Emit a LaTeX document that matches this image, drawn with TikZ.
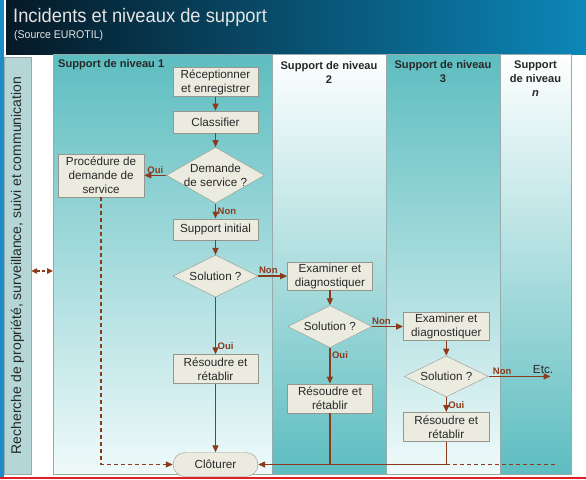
\documentclass[tikz,border=0pt]{standalone}
\usepackage{fontspec}
\setmainfont{Liberation Sans}
\newfontfamily\titlefont[FakeStretch=0.94]{Liberation Sans}
\usepackage{xcolor}
\usepackage{tikz}
\usetikzlibrary{shapes.geometric}
\usetikzlibrary{arrows.meta}
\usetikzlibrary{positioning}
\definecolor{boxfill}{RGB}{236,235,224}
\definecolor{boxline}{RGB}{150,150,140}
\definecolor{textgray}{RGB}{40,40,40}
\definecolor{flowbrown}{RGB}{140,58,28}
\definecolor{laneteal}{RGB}{93,189,192}
\definecolor{lanepale}{RGB}{240,250,250}
\definecolor{laneline}{RGB}{150,172,172}
\definecolor{sidefill}{RGB}{180,214,214}
\definecolor{sideblue}{RGB}{30,140,200}
\definecolor{hdleft}{RGB}{5,25,38}
\definecolor{hdmid}{RGB}{8,55,76}
\definecolor{hdright}{RGB}{12,135,185}
\definecolor{titlegray}{RGB}{228,228,228}
\definecolor{redline}{RGB}{225,30,35}

\begin{document}
\begin{tikzpicture} [x=1pt, y=-1pt,
                txt/.style = {font=\fontsize{11.7}{14}\selectfont, text=textgray, align=center},
                box/.style = {txt, draw=boxline, fill=boxfill, minimum width=85pt, minimum height=29pt, inner sep=1pt},
                decision/.style = {diamond, draw=boxline, fill=boxfill, inner sep=0pt},
                lane/.style = {draw=laneline, line width=.6pt},
                lanehead/.style = {font=\fontsize{11.1}{14}\selectfont\bfseries, text=textgray, align=center, inner sep=0pt},
                tip/.style = {Stealth[inset=0pt,length=7pt,width=6pt]},
                flow/.style = {draw=flowbrown, line width=1.3pt, -{Stealth[inset=0pt,length=7pt,width=6pt]}},
                link/.style = {draw=flowbrown, line width=1.3pt},
                lbl/.style = {font=\fontsize{9.5}{11}\selectfont\bfseries, text=flowbrown, inner sep=1.5pt}
            ]
            \useasboundingbox (0,0) rectangle (586,479);
            \fill[white] (0,0) rectangle (586,479);
            \fill[sideblue] (0,0) rectangle (4,479);
            \shade[left color=hdleft, middle color=hdmid, right color=hdright] (6,0) rectangle (586,54);
            \node (title) at (13,23) [anchor=base west, inner sep=0pt, text=titlegray, font=\titlefont\fontsize{19.5}{21}\selectfont] {Incidents et niveaux de support};
            \node (source) at (14,38) [anchor=base west, inner sep=0pt, text=titlegray, font=\titlefont\fontsize{11.2}{13}\selectfont] {(Source EUROTIL)};
            \shade[lane, top color=laneteal, bottom color=lanepale] (53,54) rectangle (272,474);
            \shade[lane, top color=white, bottom color=laneteal] (272,54) rectangle (386,474);
            \shade[lane, top color=laneteal, bottom color=lanepale] (386,54) rectangle (500,474);
            \shade[lane, top color=white, bottom color=laneteal] (500,54) rectangle (571,474);
            \node (head1) at (58,65) [lanehead, anchor=west] {Support de niveau 1};
            \node (head2) at (329,72) [lanehead] {Support de niveau\\2};
            \node (head3) at (443,72) [lanehead] {Support de niveau\\3};
            \node (headn) at (535.5,79) [lanehead] {Support\\de niveau\\\textit{n}};
            \node (watch) at (17.5,265.5) [draw=laneline, fill=sidefill, rotate=90, minimum width=417pt, minimum height=27pt, inner sep=0pt, text=textgray, font=\fontsize{14}{16}\selectfont] {Recherche de propriété, surveillance, suivi et communication};
            \coordinate (l1w) at (53,271);
            \draw [link, {Stealth[inset=0pt,length=6pt,width=5.5pt]}-{Stealth[inset=0pt,length=6pt,width=5.5pt]}, dash pattern=on 3pt off 2pt] (watch.south |- l1w) -- (l1w);
            \node (rec) at (215.5,82) [box] {Réceptionner\\et enregistrer};
            \node[box, minimum height=22pt, below=14pt of rec] (cls) {Classifier};
            \node[decision, minimum width=98pt, minimum height=56pt, below=14pt of cls, label={[txt]center:Demande\\de service ?}] (dem) {};
            \node[box, minimum width=86pt, minimum height=43pt, left=22pt of dem] (proc) {Procédure de\\demande de\\service};
            \node[box, minimum height=21pt, below=15pt of dem] (sup) {Support initial};
            \node[decision, minimum width=85pt, minimum height=42pt, below=15pt of sup, label={[txt]center:Solution ?}] (sol1) {};
            \node[box, below=57pt of sol1] (res1) {Résoudre et\\rétablir};
            \node (clo) at (215.5,464.5) [box, minimum height=24pt, rounded corners=12pt] {Clôturer};
            \node[box, minimum height=28pt, right=29pt of sol1] (exa2) {Examiner et\\diagnostiquer};
            \node[decision, minimum width=84pt, minimum height=42pt, below=15pt of exa2, label={[txt]center:Solution ?}] (sol2) {};
            \node[box, below=36pt of sol2] (res2) {Résoudre et\\rétablir};
            \node[box, minimum width=86pt, minimum height=28pt, right=31pt of sol2] (exa3) {Examiner et\\diagnostiquer};
            \node[decision, minimum width=84pt, minimum height=41pt, below=15pt of exa3, label={[txt]center:Solution ?}] (sol3) {};
            \node[box, minimum width=86pt, below=15pt of sol3] (res3) {Résoudre et\\rétablir};
            \coordinate[right=62pt of sol3.east] (etc);
            \coordinate (j2) at (res2 |- clo);
            \coordinate (j3) at (res3 |- clo);
            \coordinate[right=112pt of j3] (endn);
            \draw [flow] (rec) -- (cls);
            \draw [flow] (cls) -- (dem);
            \draw [flow] (dem) -- node[lbl, above] {Oui} (proc);
            \draw [flow] (dem) -- node[lbl, right] {Non} (sup);
            \draw [flow] (sup) -- (sol1);
            \draw [flow] (sol1) -- node[lbl, above, pos=.35] {Non} (exa2);
            \draw [flow] (sol1) -- node[lbl, right, pos=.86] {Oui} (res1);
            \draw [flow] (res1) -- (clo);
            \draw [flow, dash pattern=on 4pt off 3pt] (proc) |- (clo);
            \draw [flow] (exa2) -- (sol2);
            \draw [flow] (sol2) -- node[lbl, above, pos=.3] {Non} (exa3);
            \draw [flow] (sol2) -- node[lbl, right, pos=.2] {Oui} (res2);
            \draw [flow] (exa3) -- (sol3);
            \draw [flow] (sol3) -- node[lbl, above, pos=.22] {Non} node[txt, above, pos=.88, inner sep=2pt] {Etc.} (etc);
            \draw [flow] (sol3) -- node[lbl, right] {Oui} (res3);
            \draw [link] (res2) -- (j2);
            \draw [link] (res3) -- (j3);
            \draw [flow] (j3) -- (clo);
            \draw [link, dash pattern=on 4pt off 3pt] (j3) -- (endn);
            \fill[redline] (0,476.5) rectangle (586,479);
        \end{tikzpicture}
\end{document}
